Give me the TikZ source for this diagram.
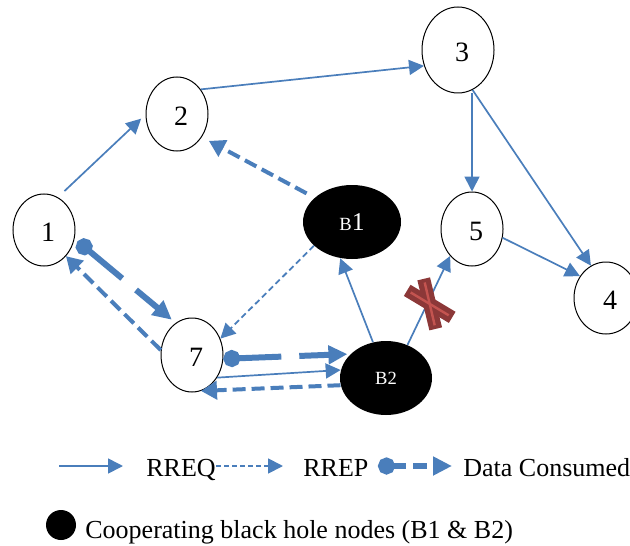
\documentclass[tikz,border=0pt]{standalone}
\usepackage{fontspec}
\setmainfont{Liberation Serif}
\usetikzlibrary{arrows.meta,shapes.geometric,calc}
\definecolor{linkblue}{RGB}{74,126,187}
\definecolor{crossred}{RGB}{140,56,56}
\definecolor{crosslight}{RGB}{196,84,80}

\begin{document}
\begin{tikzpicture}[x=0.5pt,y=-0.5pt]
					\tikzset{
						peer/.style={ellipse,draw,line width=0.5pt,fill=white,inner sep=0pt,text height=11.5pt,font=\fontsize{14}{14}\selectfont,execute at begin node={\hspace*{4pt}}},
						hole/.style={ellipse,fill=black,text=white,inner sep=0pt,minimum height=37pt},
						rreq/.style={color=linkblue,line width=0.85pt,-{Triangle[length=7.5pt,width=7.5pt]}},
						rrepthin/.style={color=linkblue,line width=0.9pt,dash pattern=on 3pt off 1.8pt,-{Triangle[length=7.5pt,width=7.5pt]}},
						rrep/.style={color=linkblue,line width=2pt,dash pattern=on 6.5pt off 3pt,-{Triangle[length=8pt,width=9pt]}},
						data/.style={color=linkblue,line width=3pt,dash pattern=on 22pt off 9pt,{Circle[length=8.5pt]}-{Triangle[length=9.5pt,width=9pt]}},
						key/.style={inner sep=0pt,font=\fontsize{13}{15}\selectfont}
					}
					\useasboundingbox (0,0) rectangle (630,545);
					\node[peer,minimum width=31pt,minimum height=36pt] (n1) at (44,230) {1};
					\node[peer,minimum width=31pt,minimum height=37pt] (n2) at (177,114) {2};
					\node[peer,minimum width=36pt,minimum height=43pt] (n3) at (458,50) {3};
					\node[peer,minimum width=32pt,minimum height=36pt] (n4) at (606,298) {4};
					\node[peer,minimum width=31pt,minimum height=37pt] (n5) at (472,229) {5};
					\node[peer,minimum width=31pt,minimum height=37pt] (n7) at (192,355) {7};
					\node[hole,minimum width=49pt] (b1) at (352,222) {{\fontsize{9.3}{10}\selectfont B}{\fontsize{12.8}{13}\selectfont 1}};
					\node[hole,minimum width=46pt,font=\fontsize{9.3}{10}\selectfont] (b2) at (386,378) {B2};
					\draw[rreq,shorten <=4.5pt,shorten >=3pt] (n1.67) -- (n2.181);
					\draw[rreq] (n2.46) -- (n3.205);
					\draw[rreq] (n3.south -| n5.north) -- (n5.north);
					\draw[rreq] (n3.-70) -- (n4.115);
					\draw[rreq] (n5.-16) -- (n4.140);
					\draw[rrep,shorten <=4.5pt,shorten >=4pt] (b1.147) -- (n2.-43);
					\draw[rrepthin] (b1.212) -- (n7.30);
					\draw[rrep] (n7.171) -- (n1.-50);
					\draw[data,shorten <=2pt,shorten >=2.5pt] (n1.-16) -- (n7.117);
					\draw[data,shorten >=1.5pt] (n7.-7) -- (b2.146);
					\draw[rreq] (n7.-42) -- (b2.170);
					\draw[rrep] (b2.189) -- (n7.-76);
					\draw[rreq] (b2.110) -- (b1.252);
					\draw[rreq] (b2.57) -- (n5.231);
					\coordinate (cut) at ($(b2.57)!0.45!(n5.231)+(1.5pt,0.5pt)$);
					\foreach \dx/\dy in {11.25/6.75,3/12.5}
						\draw[crossred,line width=6.5pt] ($(cut)+(-\dx*1pt,\dy*1pt)$) -- ($(cut)+(\dx*1pt,-\dy*1pt)$);
					\foreach \dx/\dy in {9.5/5.7,2.5/10.7}
						\draw[crosslight,line width=1.2pt] ($(cut)+(-\dx*1pt,\dy*1pt)$) -- ($(cut)+(\dx*1pt,-\dy*1pt)$);
					\coordinate (k1) at (59,466);
					\coordinate (k2) at (123,466);
					\draw[rreq] (k1) -- (k2);
					\node[key,anchor=base west] (treq) at (146,476) {RREQ};
					\coordinate (k4) at (283,466);
					\draw[rrepthin,dash pattern=on 2.5pt off 1.5pt] (treq.east |- k4) -- (k4);
					\node[key,anchor=base west] (trep) at (303,476) {RREP};
					\coordinate (k5) at (378,466);
					\coordinate (k6) at (452,466);
					\draw[data,dash pattern=on 7pt off 3.5pt] (k5) -- (k6);
					\node[key,anchor=base west] (tdata) at (463,476) {Data Consumed};
					\node[circle,fill=black,minimum size=15pt,inner sep=0pt] (kb) at (61,525) {};
					\node[key,anchor=base west] (thole) at (85,538) {Cooperating black hole nodes (B1 \& B2)};
				\end{tikzpicture}
\end{document}
